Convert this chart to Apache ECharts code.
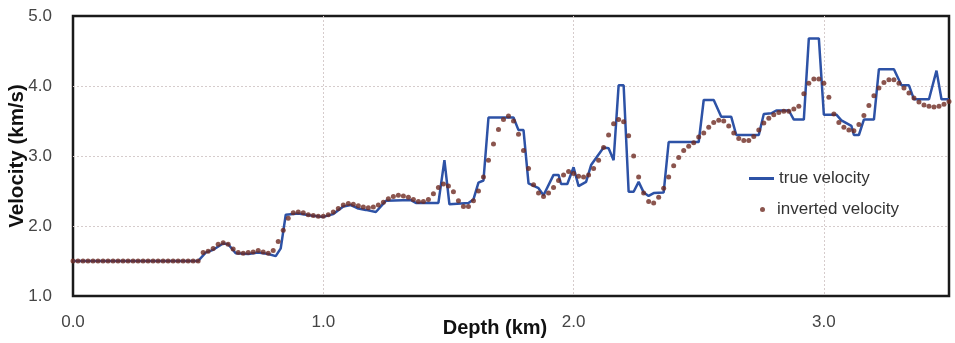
<!DOCTYPE html>
<html>
<head>
<meta charset="utf-8">
<script src="https://cdn.jsdelivr.net/npm/echarts@6/dist/echarts.min.js"></script>
<style>
  html, body { margin: 0; padding: 0; background: #fff; }
  #chart { width: 955px; height: 343px; }
</style>
</head>
<body>
<div id="chart"></div>
<script>
// true velocity model: vertices of the step profile (depth km, velocity km/s)
var trueDepth = [0, 0.50, 0.53, 0.56, 0.60, 0.62, 0.65, 0.70, 0.74, 0.78, 0.81, 0.83, 0.85, 0.90, 0.95, 1.00,
    1.04, 1.08, 1.11, 1.14, 1.17, 1.21, 1.25, 1.35, 1.37, 1.46, 1.484, 1.504, 1.58, 1.60, 1.62, 1.64, 1.66,
    1.76, 1.78, 1.80, 1.82, 1.86, 1.88, 1.92, 1.94, 1.95, 1.975, 2.00, 2.02, 2.05, 2.07, 2.12, 2.14, 2.16,
    2.18, 2.20, 2.22, 2.24, 2.26, 2.28, 2.30, 2.32, 2.36, 2.38, 2.50, 2.52, 2.56, 2.59, 2.63, 2.65, 2.74,
    2.76, 2.79, 2.81, 2.86, 2.88, 2.92, 2.94, 2.98, 3.00, 3.05, 3.07, 3.11, 3.12, 3.14, 3.16, 3.20, 3.22,
    3.28, 3.31, 3.34, 3.36, 3.42, 3.45, 3.47, 3.50];
var trueVel = [1.50, 1.50, 1.62, 1.66, 1.75, 1.74, 1.61, 1.60, 1.62, 1.60, 1.57, 1.68, 2.16, 2.18, 2.15, 2.13,
    2.17, 2.28, 2.30, 2.25, 2.23, 2.20, 2.36, 2.37, 2.33, 2.33, 2.94, 2.31, 2.33, 2.38, 2.62, 2.65, 3.55,
    3.55, 3.37, 3.37, 2.61, 2.54, 2.44, 2.73, 2.73, 2.60, 2.60, 2.84, 2.57, 2.63, 2.87, 3.12, 3.11, 2.94,
    4.01, 4.01, 2.49, 2.49, 2.63, 2.48, 2.43, 2.47, 2.48, 3.20, 3.20, 3.80, 3.80, 3.56, 3.56, 3.30, 3.30,
    3.60, 3.61, 3.65, 3.65, 3.52, 3.52, 4.68, 4.68, 3.59, 3.59, 3.51, 3.43, 3.30, 3.30, 3.52, 3.52, 4.24,
    4.24, 4.01, 4.01, 3.81, 3.81, 4.22, 3.81, 3.81];

// inverted velocity, sampled every 0.02 km from 0.0 to 3.5 km
var invStart = 0;
var invStep = 0.02;
var invVel = [
    1.50, 1.50, 1.50, 1.50, 1.50, 1.50, 1.50, 1.50, 1.50, 1.50, 1.50, 1.50, 1.50,
    1.50, 1.50, 1.50, 1.50, 1.50, 1.50, 1.50, 1.50, 1.50, 1.50, 1.50, 1.50, 1.50,
    1.62, 1.64, 1.68, 1.74, 1.76, 1.74, 1.67, 1.62, 1.61, 1.62, 1.63, 1.65, 1.63,
    1.61, 1.65, 1.78, 1.94, 2.11, 2.19, 2.20, 2.19, 2.16, 2.15, 2.14, 2.14,
    2.16, 2.20, 2.25, 2.30, 2.32, 2.31, 2.29, 2.27, 2.26, 2.27, 2.30, 2.34, 2.39,
    2.42, 2.44, 2.43, 2.41, 2.38, 2.35, 2.35, 2.38, 2.46, 2.55, 2.60, 2.57,
    2.49, 2.36, 2.28, 2.28, 2.36, 2.50, 2.70, 2.94, 3.17, 3.38, 3.52, 3.57, 3.50,
    3.31, 3.08, 2.82, 2.59, 2.47, 2.42, 2.47, 2.55, 2.65, 2.73, 2.78, 2.75,
    2.71, 2.70, 2.73, 2.82, 2.94, 3.12, 3.30, 3.46, 3.52, 3.49, 3.29, 3.00, 2.70,
    2.47, 2.35, 2.33, 2.41, 2.54, 2.70, 2.86, 2.98, 3.08, 3.14, 3.19, 3.27,
    3.33, 3.41, 3.48, 3.51, 3.50, 3.43, 3.33, 3.25, 3.22, 3.22, 3.28, 3.37, 3.47,
    3.54, 3.59, 3.62, 3.64, 3.64, 3.67, 3.71, 3.89, 4.04, 4.10, 4.10, 4.04,
    3.84, 3.60, 3.48, 3.41, 3.37, 3.36, 3.45, 3.58, 3.72, 3.86, 3.97, 4.05, 4.09,
    4.09, 4.04, 3.97, 3.90, 3.83, 3.77, 3.73, 3.71, 3.70, 3.71, 3.74, 3.78
];

var xTicks = ['0.0', '1.0', '2.0', '3.0'];
var yTicks = ['1.0', '2.0', '3.0', '4.0', '5.0'];

var chart = echarts.init(document.getElementById('chart'));

var truePts = trueDepth.map(function(d, i) { return [d, trueVel[i]]; });
var invPts = invVel.map(function(v, i) {
    return [+(invStart + i * invStep).toFixed(2), v];
});

var FONT = 'Liberation Sans, Arial, sans-serif';
var labelStyle = { color: '#444', fontFamily: FONT, fontSize: 17 };
var gridLine = {
    show: true,
    showMinLine: false,
    showMaxLine: false,
    lineStyle: { color: '#d6cccc', type: [2, 2], width: 1 }
};

var option = {
    animation: false,
    backgroundColor: '#fff',
    grid: {
        left: 73, right: 6, top: 16, bottom: 47,
        outerBoundsMode: 'none',
        containLabel: false,
        show: true,
        borderColor: '#1a1a1a',
        borderWidth: 2.5,
        backgroundColor: '#fff'
    },
    legend: [{
        data: [{ name: 'true velocity', icon: 'rect' }],
        left: 744,
        top: 165,
        itemWidth: 25,
        itemHeight: 3,
        textStyle: { color: '#333', fontSize: 17, fontFamily: FONT }
    }, {
        data: [{ name: 'inverted velocity', icon: 'circle' }],
        left: 755,
        top: 196,
        itemWidth: 5,
        itemHeight: 5,
        textStyle: { color: '#333', fontSize: 17, fontFamily: FONT, padding: [0, 0, 0, 7] }
    }],
    xAxis: {
        type: 'value',
        min: 0,
        max: 3.5,
        interval: 1,
        name: 'Depth (km)',
        nameLocation: 'middle',
        nameGap: 22,
        nameMoveOverlap: false,
        nameTextStyle: {
            color: '#111', fontFamily: FONT, fontSize: 20, fontWeight: 'bold',
            padding: [0, 32, 0, 0]
        },
        axisLine: { show: false },
        axisTick: { show: false },
        axisLabel: Object.assign({
            margin: 18,
            showMaxLabel: false,
            formatter: function(v) { return xTicks[Math.round(v)] || ''; }
        }, labelStyle),
        splitLine: gridLine
    },
    yAxis: {
        type: 'value',
        min: 1,
        max: 5,
        interval: 1,
        name: 'Velocity (km/s)',
        nameLocation: 'middle',
        nameGap: 45,
        nameMoveOverlap: false,
        nameTextStyle: { color: '#111', fontFamily: FONT, fontSize: 20.5, fontWeight: 'bold' },
        axisLine: { show: false },
        axisTick: { show: false },
        axisLabel: Object.assign({
            margin: 21,
            formatter: function(v) { return yTicks[Math.round(v) - 1]; }
        }, labelStyle),
        splitLine: gridLine
    },
    series: [{
        name: 'true velocity',
        type: 'line',
        data: truePts,
        showSymbol: false,
        symbol: 'none',
        color: '#2d52a6',
        lineStyle: { color: '#2d52a6', width: 2.5 },
        z: 2
    }, {
        name: 'inverted velocity',
        type: 'scatter',
        data: invPts,
        symbol: 'circle',
        symbolSize: 5,
        color: '#6e2a22',
        itemStyle: { color: '#6e2a22' },
        z: 3
    }]
};
chart.setOption(option);
</script>
</body>
</html>
